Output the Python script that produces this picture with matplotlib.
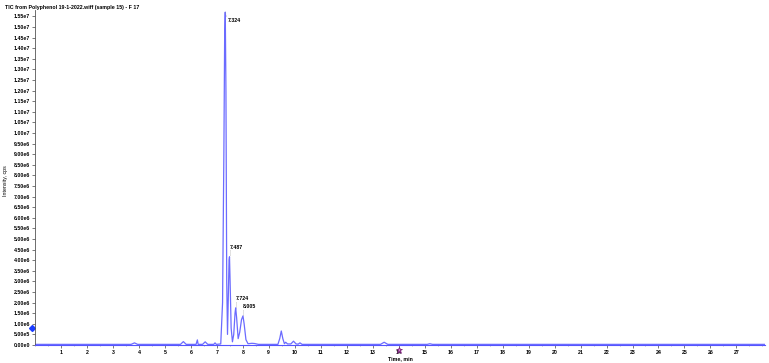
import matplotlib
matplotlib.use("Agg")
import matplotlib.pyplot as plt
from matplotlib.ticker import FixedLocator, MultipleLocator

# ---- data (time in min, intensity in cps) ----
time_min = [0.0, 3.0, 3.7, 3.83, 3.95, 5.6, 5.71, 5.82, 6.2, 6.25, 6.28, 6.45, 6.55, 6.65,
            6.88, 6.93, 6.98, 7.15, 7.22, 7.27, 7.30, 7.324, 7.35, 7.38, 7.41, 7.44, 7.47,
            7.487, 7.51, 7.55, 7.60, 7.65, 7.70, 7.724, 7.76, 7.82, 7.88, 7.95, 8.005, 8.05,
            8.12, 8.2, 8.35, 8.45, 8.6, 9.35, 9.42, 9.48, 9.54, 9.6, 9.65, 9.72, 9.85, 9.95,
            10.05, 10.13, 10.2, 10.28, 10.5, 13.3, 13.44, 13.58, 15.1, 15.2, 15.3, 28.1]
intensity = [3e4, 3e4, 3e4, 1.0e5, 3e4, 3e4, 1.6e5, 3e4, 3e4, 2.4e5, 3e4, 3e4, 1.5e5, 3e4,
             3e4, 1.0e5, 3e4, 5e4, 2.0e6, 9.0e6, 1.45e7, 1.57e7, 1.2e7, 3.0e6, 5.0e5, 2.2e6,
             4.0e6, 4.16e6, 3.0e6, 8.0e5, 1.5e5, 5.0e5, 1.5e6, 1.75e6, 1.3e6, 3.0e5, 6.0e5,
             1.2e6, 1.37e6, 1.0e6, 2.5e5, 6e4, 8e4, 7e4, 3e4, 3e4, 3.0e5, 6.6e5, 3.0e5, 6e4,
             1.3e5, 5e4, 5e4, 1.8e5, 5e4, 4e4, 1.0e5, 3e4, 3e4, 3e4, 1.3e5, 3e4, 3e4, 6e4,
             3e4, 3e4]

peak_times = [7.324, 7.487, 7.724, 8.005]
peak_heights = [1.57e7, 4.16e6, 1.75e6, 1.37e6]
peak_labels = ["7.324", "7.487", "7.724", "8.005"]

x_ticks = list(range(1, 28))
y_ticks = [i * 5e5 for i in range(32)]

title = "TIC from Polyphenol 19-1-2022.wiff (sample 15) - F 17"
font = "Liberation Sans"
fs = 3.8


def ylab(v):
    if v == 0:
        return "0.00e0"
    e = 0
    m = v
    while m >= 10:
        m /= 10
        e += 1
    return f"{m:.2f}e{e}"


fig = plt.figure(figsize=(7.69, 3.63), dpi=100)
ax = fig.add_axes([35 / 769, 1 - 345 / 363, 730 / 769, 335 / 363])

line_c = "#6b6bff"
ax.plot(time_min, intensity, color=line_c, lw=0.9, solid_joinstyle="round")
ax.set_xlim(0, 28.1)
ax.set_ylim(0, 1.58e7)

for sp in ["top", "right"]:
    ax.spines[sp].set_visible(False)
ax.spines["left"].set_color("#555555")
ax.spines["bottom"].set_color("#5555ff")
ax.spines["left"].set_linewidth(0.6)
ax.spines["bottom"].set_linewidth(0.8)

ax.xaxis.set_major_locator(FixedLocator(x_ticks))
ax.xaxis.set_minor_locator(MultipleLocator(0.5))
ax.set_xticklabels([str(t) for t in x_ticks], fontsize=fs, fontweight="bold", family=font)
ax.yaxis.set_major_locator(FixedLocator(y_ticks))
ax.set_yticklabels([ylab(v) for v in y_ticks], fontsize=fs, fontweight="bold", family=font)
ax.tick_params(axis="both", which="major", length=2, width=0.5, color="#444444", pad=1.5)
ax.tick_params(axis="x", which="minor", length=1, width=0.4, color="#888888")

ax.set_xlabel("Time, min", fontsize=fs, fontweight="bold", family=font, labelpad=1)
ax.set_ylabel("Intensity, cps", fontsize=fs, family=font)
ax.yaxis.set_label_coords(-27 / 730, 0.49)

fig.text(5 / 769, 1 - 7 / 363, title, fontsize=fs, fontweight="bold", family=font,
         va="center", ha="left")

# peak labels
for t, h, lab in zip(peak_times, peak_heights, peak_labels):
    if t == 7.324:
        ax.plot([t, t + 0.06], [h, h * 0.985], color="#999999", lw=0.4, ls=":")
        ax.text(t + 0.08, h * 0.975, lab, fontsize=fs, fontweight="bold", family=font,
                va="center", ha="left")
    else:
        ax.plot([t, t], [h * 1.02, h + 3.0e5], color="#888888", lw=0.4, ls=(0, (1, 1)))
        ax.text(t, h + 3.2e5, lab, fontsize=fs, fontweight="bold", family=font,
                va="bottom", ha="left")

# markers on the axes
ax.plot([-0.1], [8.0e5], marker="D", ms=3, color="#1a3cff", clip_on=False)
ax.plot([14.0], [-2.2e5], marker="*", ms=5, markerfacecolor="#d080d0",
        markeredgecolor="#701070", markeredgewidth=0.5, clip_on=False, ls="none")

fig.savefig("out.png", dpi=100)
